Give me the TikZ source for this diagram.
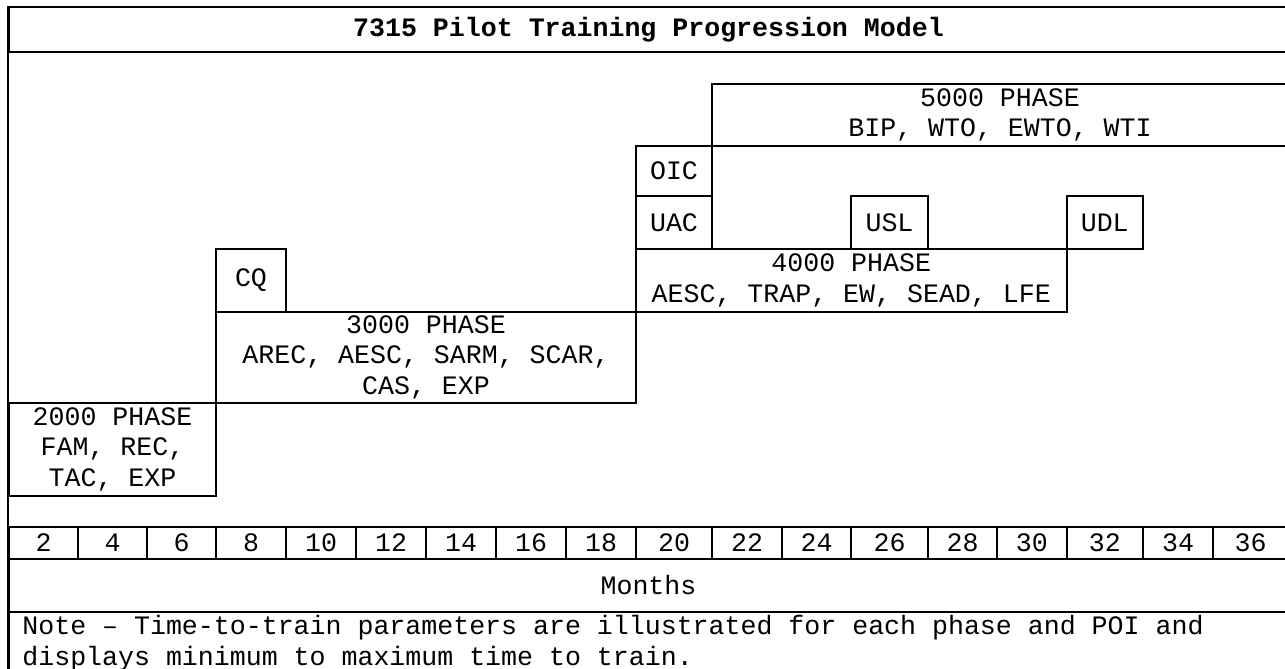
\documentclass[tikz,border=0pt]{standalone}
\usepackage{fontspec}
\setmonofont{Liberation Mono}

\begin{document}
\begin{tikzpicture}[x=0.5pt,y=-0.5pt,font=\ttfamily\fontsize{13.3}{15.25}\selectfont]
  \tikzset{cell/.style={draw,line width=1pt,inner sep=0pt,align=center},
    box/.style 2 args={minimum width=(#1)*0.5pt,minimum height=(#2)*0.5pt},
    frame/.style={line width=1pt}}
  \useasboundingbox (0,0) rectangle (1285,669);
  % title, axis and note rows
  \node[cell,box={1279}{45}] (title) at (648.5,29.5) {\bfseries 7315 Pilot Training Progression Model};
  \node[cell,box={1279}{52.5}] (months) at (648.5,585.25) {Months};
  \node[cell,box={1279}{60.5}] (note) at (648.5,641.75) {};
  \node[anchor=north west,align=left,inner sep=0pt] (notetext) at (22,615)
    {Note – Time-to-train parameters are illustrated for each phase and POI and\\displays minimum to maximum time to train.};
  \foreach \m/\a/\b in {2/9/78,4/78/147,6/147/216,8/216/286,10/286/356,12/356/426,
      14/426/496,16/496/566,18/566/636,20/636/712,22/712/782,24/782/851,
      26/851/928,28/928/997,30/997/1066.5,32/1066.5/1143,34/1143/1213,36/1213/1288}
    \node[cell,box={\b-\a}{32}] (m\m) at ({(\a+\b)/2},543) {\m};
  % phases
  \node[cell,box={207}{92.5}] (p2000) at (112.5,449.25) {2000 PHASE\\FAM, REC,\\TAC, EXP};
  \node[cell,box={420}{91.5}] (p3000) at (426,357.25) {3000 PHASE\\AREC, AESC, SARM, SCAR,\\CAS, EXP};
  \node[cell,box={430.5}{62.5}] (p4000) at (851.25,280.25) {4000 PHASE\\AESC, TRAP, EW, SEAD, LFE};
  \node[cell,box={576}{62}] (p5000) at (1000,115) {5000 PHASE\\BIP, WTO, EWTO, WTI};
  % points of instruction
  \node[cell,box={70}{62.5}] (cq) at (251,280.25) {CQ};
  \node[cell,box={76}{53}] (uac) at (674,222.5) {UAC};
  \node[cell,box={76}{50}] (oic) at (674,171) {OIC};
  \node[cell,box={77}{53}] (usl) at (889.5,222.5) {USL};
  \node[cell,box={76.5}{53}] (udl) at (1104.75,222.5) {UDL};
  \draw[frame] (title.north west) -- (note.south west);
\end{tikzpicture}
\end{document}
